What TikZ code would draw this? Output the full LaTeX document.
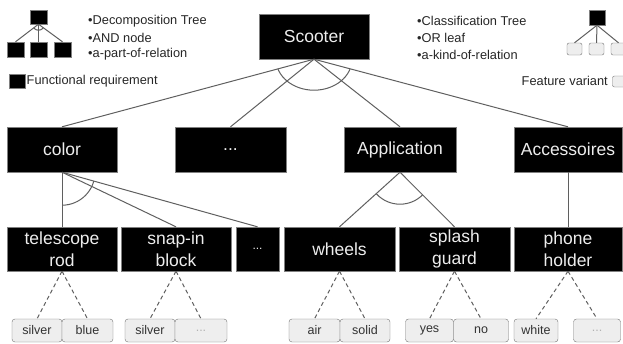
\documentclass[tikz,border=0pt]{standalone}
\usepackage{fontspec}
\setmainfont{Liberation Sans}
\definecolor{linegray}{HTML}{5F5F5F}
\definecolor{leafgray}{HTML}{EEEEEE}
\tikzset{
  req/.style = {draw = gray, fill = black, text = white!93!black, inner sep = 0pt,
                minimum height = 45pt, align = center,
                font = \fontsize{17.5}{22}\selectfont},
  variant/.style = {draw = gray!90!black, fill = leafgray, rounded corners = 3pt,
                    inner sep = 0pt, minimum height = 23pt, text = black!80,
                    font = \fontsize{12.5}{14}\selectfont},
  legend/.style = {inner sep = 0pt, anchor = west, text = black!85,
                   font = \fontsize{12.8}{14}\selectfont},
  link/.style = {draw = linegray, line width = 1pt},
  vlink/.style = {link, dash pattern = on 4pt off 3pt}
}
\begin{document}
\begin{tikzpicture}[x = 1pt, y = -1pt]
  \useasboundingbox (0,0) rectangle (623,343);
  % legend, left
  \node [req, minimum width = 17pt, minimum height = 14pt] (dtop) at (38.5,17) {};
  \node [req, minimum width = 17pt, minimum height = 15pt] (dleft) at (15.5,49.5) {};
  \node [req, minimum width = 17pt, minimum height = 15pt] (dmid) at (38.5,49.5) {};
  \node [req, minimum width = 17pt, minimum height = 15pt] (dright) at (62.5,49.5) {};
  \draw [link] (dtop.south) -- (dleft.north);
  \draw [link] (dtop.south) -- (dmid.north);
  \draw [link] (dtop.south) -- (dright.north);
  \begin{scope}
    \clip (dtop.south) -- (dleft.north) -- (dright.north) -- cycle;
    \draw [link] (dtop.south) circle (6);
  \end{scope}
  \node [legend] (dtree) at (88,21) {\textbullet Decomposition Tree};
  \node [legend] (andnode) at (88,37.5) {\textbullet AND node};
  \node [legend] (partof) at (88,54.5) {\textbullet a-part-of-relation};
  \node [req, minimum width = 16pt, minimum height = 14pt] (reqkey) at (17,81) {};
  \node [legend] (reqtext) at (26.5,81) {Functional requirement};
  % legend, right
  \node [legend] (ctree) at (417,21) {\textbullet Classification Tree};
  \node [legend] (orleaf) at (417,37.5) {\textbullet OR leaf};
  \node [legend] (kindof) at (417,54.5) {\textbullet a-kind-of-relation};
  \node [req, minimum width = 16pt, minimum height = 15pt] (ctop) at (597,17.5) {};
  \node [variant, minimum width = 15pt, minimum height = 12pt, rounded corners = 2pt]
    (cleft) at (574.5,49) {};
  \node [variant, minimum width = 15pt, minimum height = 12pt, rounded corners = 2pt]
    (cmid) at (596.5,49) {};
  \node [variant, minimum width = 15pt, minimum height = 12pt, rounded corners = 2pt]
    (cright) at (618.5,49) {};
  \draw [link] (ctop.south) -- (cleft.north);
  \draw [link] (ctop.south) -- (cmid.north);
  \draw [link] (ctop.south) -- (cright.north);
  \node [variant, minimum width = 15pt, minimum height = 11pt, rounded corners = 2pt]
    (varkey) at (620,81.5) {};
  \node [legend, anchor = east] (vartext) at (608,81) {Feature variant};
  % tree
  \node [req, minimum width = 110pt] (scooter) at (314,36.5) {Scooter};
  \node [req, minimum width = 110pt] (color) at (62,149.5) {color};
  \node [req, minimum width = 111pt] (more) at (230.5,149.5) {...};
  \node [req, minimum width = 112pt] (app) at (400,149.5) {Application};
  \node [req, minimum width = 108pt] (acc) at (568,149.5) {Accessoires};
  \node [req, minimum width = 110pt, minimum height = 44pt] (rod) at (62,249)
    {telescope\\rod};
  \node [req, minimum width = 110pt, minimum height = 44pt] (block) at (176,249)
    {snap-in\\block};
  \node [req, minimum width = 43pt, minimum height = 44pt] (colmore) at (257.5,249)
    {\fontsize{12}{14}\selectfont ...};
  \node [req, minimum width = 111pt, minimum height = 44pt] (wheels) at (339.5,249)
    {wheels};
  \node [req, minimum width = 111pt, minimum height = 44pt] (guard) at (454.5,249)
    {splash\\guard};
  \node [req, minimum width = 108pt, minimum height = 44pt] (holder) at (568,249)
    {phone\\holder};
  \draw [link] (scooter.south) -- (color.north);
  \draw [link] (scooter.south) -- (more.north);
  \draw [link] (scooter.south) -- (app.north);
  \draw [link] (scooter.south) -- (acc.north);
  \begin{scope}
    \clip (scooter.south) -- (color.north) -- (acc.north) -- cycle;
    \draw [link] (scooter.south) ellipse (38 and 31);
  \end{scope}
  \draw [link] (color.south) -- (rod.north);
  \draw [link] (color.south) -- (block.north);
  \draw [link] (color.south) -- (colmore.north);
  \begin{scope}
    \clip (color.south) -- (rod.north) -- (colmore.north) -- cycle;
    \draw [link] (color.south) circle (33);
  \end{scope}
  \draw [link] (app.south) -- (wheels.north);
  \draw [link] (app.south) -- (guard.north);
  \begin{scope}
    \clip (app.south) -- (wheels.north) -- (guard.north) -- cycle;
    \draw [link] (app.south) circle (32);
  \end{scope}
  \draw [link] (acc.south) -- (holder.north);
  % feature variants
  \node [variant, minimum width = 50pt] (silverrod) at (37,330.5) {silver};
  \node [variant, minimum width = 51pt] (bluerod) at (87.5,330.5) {blue};
  \node [variant, minimum width = 50pt] (silverblock) at (150,330.5) {silver};
  \node [variant, minimum width = 52pt, text = black!30] (moreblock) at (201,330.5) {...};
  \node [variant, minimum width = 51pt] (air) at (314.5,330.5) {air};
  \node [variant, minimum width = 50pt] (solid) at (365,330.5) {solid};
  \node [variant, minimum width = 48pt] (yes) at (429.5,330.5) {yes};
  \node [variant, minimum width = 55pt] (no) at (481,330.5) {no};
  \node [variant, minimum width = 44pt] (white) at (536,330.5) {white};
  \node [variant, minimum width = 47pt, text = black!30] (moreholder) at (597,330.5) {...};
  \draw [vlink] (rod.south) -- (silverrod.north);
  \draw [vlink] (rod.south) -- (bluerod.north);
  \draw [vlink] (block.south) -- (silverblock.north);
  \draw [vlink] (block.south) -- (moreblock.north);
  \draw [vlink] (wheels.south) -- (air.north);
  \draw [vlink] (wheels.south) -- (solid.north);
  \draw [vlink] (guard.south) -- (yes.north);
  \draw [vlink] (guard.south) -- (no.north);
  \draw [vlink] (holder.south) -- (white.north);
  \draw [vlink] (holder.south) -- (moreholder.north);
\end{tikzpicture}
\end{document}
